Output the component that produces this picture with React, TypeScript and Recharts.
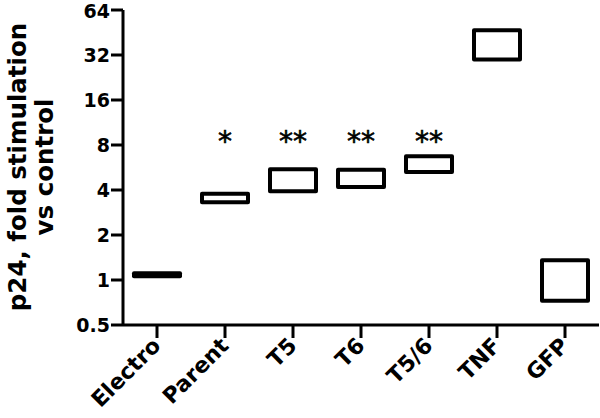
import React from 'react';
import { ComposedChart, Bar, Line, XAxis, YAxis, LabelList } from 'recharts';

const categories = ['Electro', 'Parent', 'T5', 'T6', 'T5/6', 'TNF', 'GFP'];
const lows = [1.06, 3.31, 3.92, 4.19, 5.28, 29.8, 0.727];
const highs = [1.11, 3.78, 5.5, 5.47, 6.72, 46.8, 1.355];
const stars = ['', '*', '**', '**', '**', '', ''];
const starLevel = 9.3;
const yTicks = [0.5, 1, 2, 4, 8, 16, 32, 64];

const data = categories.map((c, i) => ({
  name: c,
  range: [lows[i], highs[i]],
  stars: stars[i],
  starY: stars[i] ? starLevel : null,
}));

const FONT = '"DejaVu Sans", sans-serif';

const XTick = (props: any) => {
  const { x, y, payload } = props;
  return (
    <g transform={`translate(${x},${y})`}>
      <text
        x={0}
        y={0}
        transform="translate(5,7) rotate(-45)"
        textAnchor="end"
        fontFamily={FONT}
        fontWeight="bold"
        fontSize={22}
        fill="#000"
      >
        {payload.value}
      </text>
    </g>
  );
};

const YLabel = () => {
  const cx = 26;
  const cy = 167;
  return (
    <text
      transform={`rotate(-90, ${cx}, ${cy})`}
      x={cx}
      y={cy}
      textAnchor="middle"
      fontFamily={FONT}
      fontWeight="bold"
      fontSize={24.5}
      fill="#000"
    >
      <tspan x={cx} y={cy}>p24, fold stimulation</tspan>
      <tspan x={cx} dy={27}>vs control</tspan>
    </text>
  );
};

const StarLabel = (props: any) => {
  const { x, y, value } = props;
  if (!value || y == null) return null;
  return (
    <text x={x} y={y + 16} textAnchor="middle" fontFamily={FONT} fontSize={28} fill="#000" stroke="#000" strokeWidth={0.6}>
      {value}
    </text>
  );
};

export default function App() {
  return (
    <div style={{ position: 'absolute', left: 0, top: 0, width: 600, height: 418, background: '#fff' }}>
      <ComposedChart width={600} height={418} data={data} margin={{ top: 10, right: 1, bottom: 0, left: 0 }}>
        <XAxis
          dataKey="name"
          interval={0}
          height={93}
          tick={<XTick />}
          tickSize={13}
          tickMargin={2}
          axisLine={{ stroke: '#000', strokeWidth: 3 }}
          tickLine={{ stroke: '#000', strokeWidth: 3 }}
        />
        <YAxis
          scale="log"
          domain={[0.5, 64]}
          ticks={yTicks}
          allowDataOverflow
          width={123}
          tickSize={12}
          tickMargin={1}
          tickFormatter={(v: number) => String(v)}
          tick={{ fontFamily: FONT, fontWeight: 'bold', fontSize: 19, fill: '#000' }}
          axisLine={{ stroke: '#000', strokeWidth: 3 }}
          tickLine={{ stroke: '#000', strokeWidth: 3 }}
          label={<YLabel />}
        />
        <Bar
          dataKey="range"
          fill="#fff"
          stroke="#000"
          strokeWidth={4}
          strokeLinejoin="round"
          barSize={46}
          isAnimationActive={false}
        />
        <Line
          dataKey="starY"
          stroke="none"
          dot={false}
          activeDot={false}
          isAnimationActive={false}
          legendType="none"
        >
          <LabelList dataKey="stars" content={<StarLabel />} />
        </Line>
      </ComposedChart>
    </div>
  );
}
